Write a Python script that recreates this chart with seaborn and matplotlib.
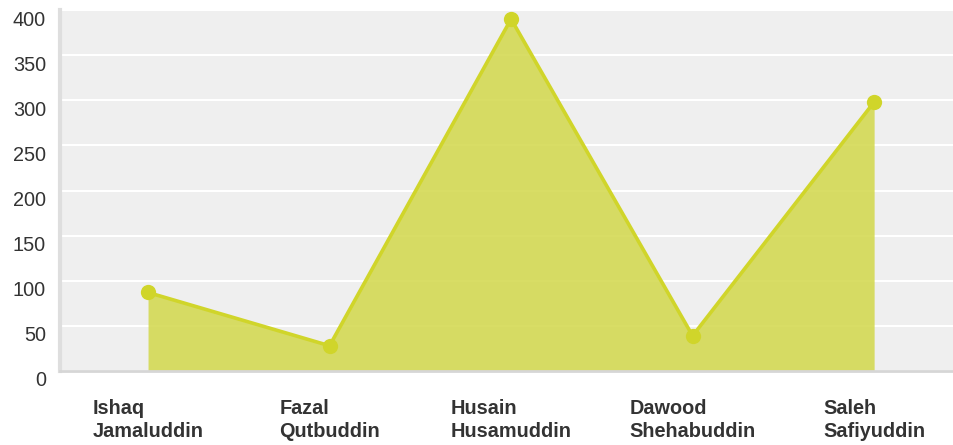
import matplotlib
matplotlib.use('Agg')
import matplotlib.pyplot as plt
import matplotlib.transforms as mtransforms
import seaborn as sns
import pandas as pd

# ── Data ─────────────────────────────────────────────
names = ['Ishaq\nJamaluddin', 'Fazal\nQutbuddin', 'Husain\nHusamuddin',
         'Dawood\nShehabuddin', 'Saleh\nSafiyuddin']
values = [87, 28, 390, 39, 298]
yticks = [0, 50, 100, 150, 200, 250, 300, 350, 400]

df = pd.DataFrame({'name': names, 'value': values})
df['pos'] = range(len(df))

# ── Style ────────────────────────────────────────────
sns.set_style('whitegrid', {'axes.facecolor': '#efefef', 'grid.color': 'white'})
plt.rcParams['font.family'] = ['Liberation Sans', 'DejaVu Sans']

line_col = '#d0d52a'
fill_col = '#d2d84a'

fig = plt.figure(figsize=(9.54, 4.45), dpi=100)
ax = fig.add_axes([60 / 954, 1 - 371 / 445, 1 - 60 / 954, 361 / 445])

ax.fill_between(df['pos'], df['value'], 0, color=fill_col, alpha=0.85, lw=0, zorder=2)
sns.lineplot(data=df, x='pos', y='value', ax=ax, color=line_col, lw=2.6,
             marker='o', markersize=11, markeredgewidth=0, zorder=3)

ax.set_xlim(-0.485, 4.44)
ax.set_ylim(0, 400)
ax.set_yticks(yticks)
ax.set_xticks(df['pos'])
ax.set_xticklabels(df['name'], fontweight='bold', fontsize=14.3, color='#333333',
                   multialignment='left', linespacing=1.3)
ax.tick_params(axis='x', length=0, pad=20)
ax.tick_params(axis='y', length=0, labelsize=14.3, labelcolor='#333333', pad=10)
ax.grid(axis='x', visible=False)
ax.grid(axis='y', color='white', lw=1.5)
ax.set_axisbelow(True)

# y labels sit a bit below their gridlines
offset = mtransforms.ScaledTranslation(0, -8 / 100, fig.dpi_scale_trans)
for lab in ax.get_yticklabels():
    lab.set_transform(lab.get_transform() + offset)

for side in ['top', 'right']:
    ax.spines[side].set_visible(False)
ax.spines['left'].set_color('#dedede')
ax.spines['left'].set_linewidth(3)
ax.spines['bottom'].set_color('#d6d6d6')
ax.spines['bottom'].set_linewidth(2)

ax.set_xlabel('')
ax.set_ylabel('')

fig.savefig('out.png', dpi=100)
